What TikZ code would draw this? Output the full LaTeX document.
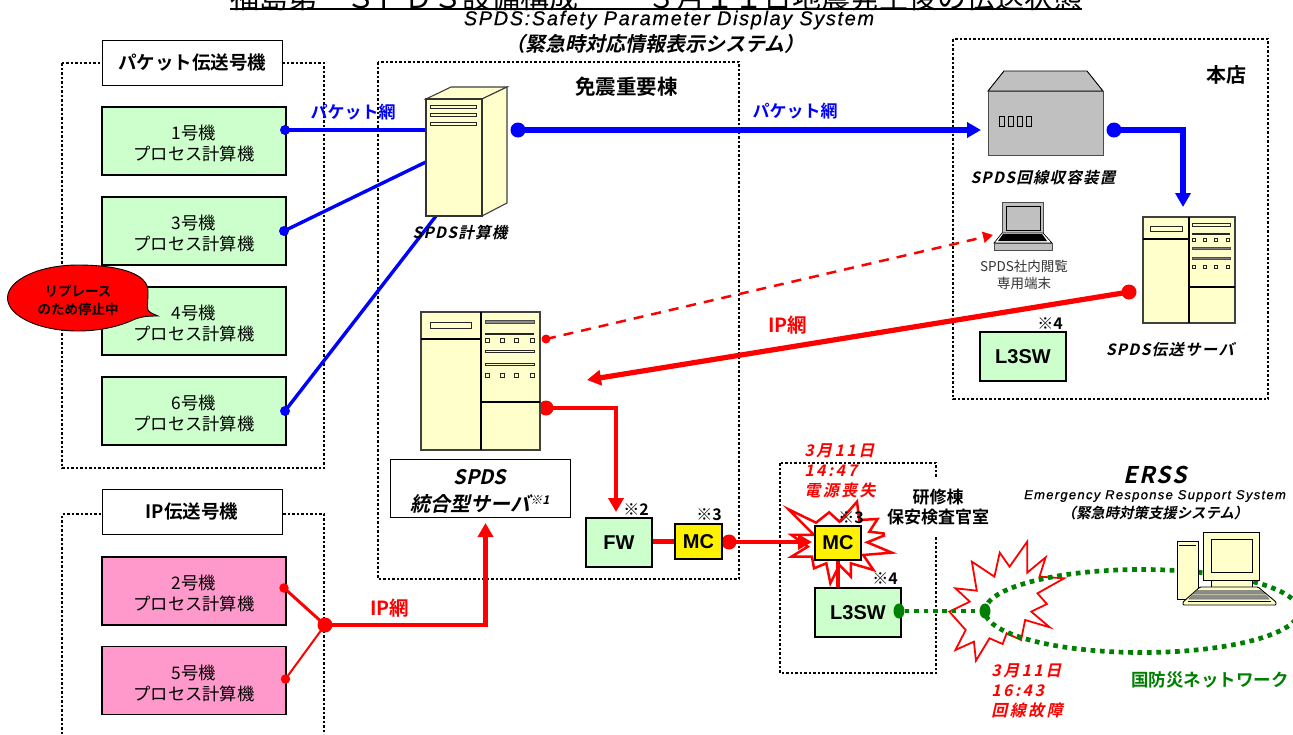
\documentclass[tikz,border=0pt]{standalone}
\usepackage{fontspec}
\setmainfont{Liberation Sans}
\newfontfamily\jp{Noto Sans CJK JP}
\newfontfamily\jpb{Noto Sans CJK JP Bold}
\newfontfamily\jpi[FakeSlant=0.22]{Noto Sans CJK JP Bold}
\newfontfamily\jpil[FakeSlant=0.22,LetterSpace=8]{Noto Sans CJK JP Bold}
\newfontfamily\jpir[FakeSlant=0.22,LetterSpace=15]{Noto Sans CJK JP Bold}
\newfontfamily\lati[LetterSpace=8,FakeBold=0.5]{Liberation Sans Italic}
\newfontfamily\latbi[LetterSpace=10,FakeBold=0.8]{Liberation Sans Italic}
\newfontfamily\latb{Liberation Sans Bold}
\usetikzlibrary{arrows.meta,shapes.geometric}
\definecolor{pgreen}{HTML}{CCFFCC}
\definecolor{ppink}{HTML}{FF99CC}
\definecolor{pcream}{HTML}{FFFFCC}
\definecolor{pgray}{HTML}{C0C0C0}
\definecolor{nblue}{HTML}{0000FF}
\definecolor{nred}{HTML}{FF0000}
\definecolor{ngreen}{HTML}{008000}
\newcommand\uu{\rule{0pt}{19.5pt}}
\tikzset{
  zone/.style={draw=black,line width=2.2pt,dash pattern=on 2.5pt off 2pt},
  unitbox/.style={draw=black,line width=1.8pt,minimum width=184pt,minimum height=68pt,inner sep=0pt,align=center,font=\jp\fontsize{17.3}{21}\selectfont},
  gbox/.style={unitbox,fill=pgreen},
  pbox/.style={unitbox,fill=ppink},
  titlebox/.style={draw=black,fill=white,line width=0.9pt,minimum width=180pt,minimum height=45pt,inner sep=0pt,font=\jpb\fontsize{18.5}{21}\selectfont},
  netbox/.style={draw=black,line width=1.8pt,inner sep=0pt,font=\latb\fontsize{20}{22}\selectfont},
  eqp/.style={draw=black!75,fill=pcream,line width=1.1pt},
  eqblack/.style={draw=black,line width=1.1pt},
  slot/.style={draw=black!85,fill=pcream,line width=1pt},
  blueA/.style={draw=nblue,line width=3.4pt},
  blueB/.style={draw=nblue,line width=5.4pt},
  redA/.style={draw=nred,line width=4.6pt},
  tri/.style={-{Triangle[length=14pt,width=15pt]}},
  bdot/.style={circle,fill=nblue,inner sep=0pt,minimum size=#1},
  rdot/.style={circle,fill=nred,inner sep=0pt,minimum size=#1},
  gdot/.style={ellipse,fill=ngreen,inner sep=0pt,minimum width=11pt,minimum height=15pt},
  greenline/.style={draw=ngreen,line width=4.7pt,dash pattern=on 4.7pt off 4.7pt},
  burst/.style={draw=nred,fill=white,line width=1.8pt,line join=miter},
  devlabel/.style={inner sep=0pt,align=center,font=\jpil\fontsize{15.5}{17}\selectfont},
  mark4/.style={inner sep=0pt,font=\jpb\fontsize{16}{16}\selectfont},
  heading/.style={inner sep=0pt,align=center,font=\jpb\fontsize{17}{20}\selectfont},
  rednote/.style={inner sep=0pt,align=left,text=nred,font=\jpir\fontsize{16}{20}\selectfont},
}
\begin{document}
\begin{tikzpicture}[x=1pt,y=-1pt]
\path[use as bounding box] (0,0) rectangle (1293,734);
\clip (0,0) rectangle (1293,734);
\fill[white] (0,0) rectangle (1293,734);

% title
\node[anchor=south west,inner sep=0pt,font=\jp\fontsize{29}{29}\selectfont] (title) at (230,11) {福島第一ＳＰＤＳ設備構成\hspace{69pt}３月１１日地震発生後の伝送状態};
\coordinate (ulA) at (230,9); \coordinate (ulB) at (1082,9);
\draw[line width=2pt] (ulA) -- (ulB);
\node[inner sep=0pt,font=\lati\fontsize{20}{22}\selectfont] (sub1) at (669,20) {SPDS:Safety Parameter Display System};
\node[inner sep=0pt,font=\jpi\fontsize{20}{22}\selectfont] (sub2) at (655,44) {（緊急時対応情報表示システム）};

% zones
\draw[zone] (62,734) -- (62,514) -- (324,514) -- (324,734);
\draw[zone] (62,63) rectangle (324,468);
\draw[zone] (378,62) rectangle (739,579);
\draw[zone] (953,39) rectangle (1268,399);
\draw[zone] (780,463) rectangle (936,673);

\node[titlebox] (pk) at (192,62.5) {パケット伝送号機};
\node[titlebox] (ipk) at (192,511.5) {IP伝送号機};

% units
\node[gbox] (u1) at (194,141) {\uu 1号機\\プロセス計算機};
\node[gbox] (u3) at (194,231) {\uu 3号機\\プロセス計算機};
\node[gbox] (u4) at (194,321) {\uu 4号機\\プロセス計算機};
\node[gbox] (u6) at (194,411) {\uu 6号機\\プロセス計算機};
\node[pbox] (u2) at (194,591) {\uu 2号機\\プロセス計算機};
\node[pbox] (u5) at (194,680.5) {\uu 5号機\\プロセス計算機};

% connector dots
\node[bdot=10pt] (d1) at (285,130) {};
\node[bdot=10pt] (d3) at (284,231) {};
\node[bdot=10pt] (d6) at (285,411) {};
\node[bdot=15pt] (d7) at (518,130) {};
\node[bdot=15pt] (d8) at (1114,130) {};
\node[rdot=9.5pt] (d2) at (284,588) {};
\node[rdot=9.5pt] (d5) at (285.5,679) {};
\node[rdot=15pt] (j) at (325,625) {};
\node[rdot=9pt] (d9) at (546,339) {};
\node[rdot=15pt] (d10) at (546,408) {};
\node[rdot=15pt] (d11) at (1129,292) {};
\node[rdot=15pt] (d12) at (729,542) {};

\coordinate (s1) at (430,130); \coordinate (s3) at (430,160); \coordinate (s6) at (436,216);
\coordinate (t1) at (981,130);
\coordinate (c8) at (1183,130); \coordinate (t8) at (1183,207);
\coordinate (t9) at (993,235);
\coordinate (t11) at (587,380);
\coordinate (c10) at (616,408); \coordinate (t10) at (616,512);
\coordinate (cj) at (485.5,625); \coordinate (tj) at (485.5,523);
\coordinate (t12) at (812,542);

% connectors
\draw[blueA] (d1.center) -- (s1);
\draw[blueA] (d3.center) -- (s3);
\draw[blueA] (d6.center) -- (s6);
\draw[blueB,tri] (d7.center) -- (t1);
\draw[blueB,tri] (d8.center) -- (c8) -- (t8);
\draw[draw=nred,line width=2.5pt,dash pattern=on 10pt off 8pt,-{Triangle[length=10pt,width=11pt]}] (d9.center) -- (t9);
\draw[redA,line width=5.2pt,tri] (d11.center) -- (t11);
\draw[redA,tri] (d10.center) -- (c10) -- (t10);
\draw[redA,tri] (j.center) -- (cj) -- (tj);
\draw[draw=nred,line width=3pt] (d2.center) -- (j.center);
\draw[draw=nred,line width=2pt] (d5.center) -- (j.center);

% SPDS computer
\filldraw[eqp] (426,99) -- (451,87) -- (507,87) -- (482,99) -- cycle;
\filldraw[eqp] (482,99) -- (507,87) -- (507,203) -- (482,216) -- cycle;
\node[eqp,draw=black!80,minimum width=56pt,minimum height=117pt,inner sep=0pt] (srv) at (454,157.5) {};
\foreach \yy in {106.5,115,123.5} \filldraw[slot] (430,\yy-1.5) rectangle (476,\yy+1.5);
\node[devlabel] (srvl) at (460,233) {SPDS計算機};

% integrated server
\node[eqp,minimum width=119pt,minimum height=138pt,inner sep=0pt] (isv) at (480.5,381) {};
\draw[eqblack] (481,312) -- (481,450) (421,339) -- (481,339) (481,402) -- (540,402);
\filldraw[slot] (430,322) rectangle (471,328);
\filldraw[draw=black!70,fill=black!45,line width=.7pt] (485,320) rectangle (534,323);
\fill[black!85] (485,333) rectangle (534,335);
\filldraw[slot] (485,350) rectangle (534,352.5);
\filldraw[slot] (485,363.5) rectangle (534,365.5);
\foreach \xx in {487,502,516,532} { \filldraw[slot] (\xx-2,338) rectangle (\xx+2,342.5); \filldraw[slot] (\xx-2,373) rectangle (\xx+2,377.5); }
\node[draw=black,fill=white,line width=.9pt,minimum width=180pt,minimum height=58pt,inner sep=0pt] (isvl) at (480,488) {};
\node[inner sep=0pt,font=\jpi\fontsize{20}{22}\selectfont] (isv1) at (480,477) {SPDS};
\node[inner sep=0pt,font=\jpi\fontsize{20}{22}\selectfont] (isv2) at (480,504) {統合型サーバ\raisebox{7pt}{\fontsize{12}{12}\selectfont ※1}};

% FW, MC
\node[netbox,fill=pgreen,minimum width=66pt,minimum height=49pt] (fw) at (619,542.5) {FW};
\node[netbox,fill=yellow,minimum width=47pt,minimum height=35pt] (mc) at (698.5,541.5) {MC};
\draw[redA] (fw.east |- mc.west) -- (mc.west);
\draw[redA] (d12.center) -- (mc.east);
\node[mark4] (n2) at (636,510) {※2};
\node[mark4] (n3) at (709,515) {※3};

% burst 1
\begin{scope}[shift={(650,420)},x=0.41pt,y=-0.3333pt]
\draw[burst,line width=2.5pt] (338,268) -- (405,308) -- (437,277) -- (462,305) -- (505,245) -- (510,300) -- (555,297) -- (535,335) -- (580,342) -- (530,367) -- (590,398) -- (520,405) -- (545,450) -- (490,430) -- (490,470) -- (462,435) -- (440,490) -- (430,430) -- (400,445) -- (395,410) -- (345,410) -- (385,380) -- (345,345) -- (400,345) -- cycle;
\end{scope}
\draw[redA,tri] (d12.center) -- (t12);
\node[netbox,fill=yellow,minimum width=46pt,minimum height=34pt] (mc2) at (838,543) {MC};
\node[netbox,fill=pgreen,minimum width=85.5pt,minimum height=49pt] (l32) at (858,612.5) {L3SW};
\draw[redA] (l32.north -| mc2.south) -- (mc2.south);
\node[mark4] (n32) at (851,518) {※3};
\node[mark4] (n42) at (885,579) {※4};

% burst 2
\begin{scope}[shift={(650,420)},x=0.41pt,y=-0.3333pt]
\draw[burst] (730,575) -- (780,545) -- (745,505) -- (797,512) -- (785,425) -- (840,470) -- (853,398) -- (877,440) -- (920,365) -- (920,458) -- (965,412) -- (950,470) -- (1010,475) -- (945,520) -- (968,552) -- (930,575) -- (975,622) -- (915,600) -- (905,660) -- (870,640) -- (860,672) -- (828,655) -- (795,722) -- (790,665) -- (745,690) -- (770,630) -- cycle;
\end{scope}

% green network
\draw[greenline] (1142,611) ellipse [x radius=157, y radius=41.5];
\node[gdot] (g1) at (899,611) {};
\node[gdot] (g2) at (985,611) {};
\draw[greenline] (g1) -- (g2);

% ERSS terminal
\filldraw[draw=black,fill=pcream,line width=.9pt] (1177,541) rectangle (1198,599);
\fill[black] (1179,544.5) rectangle (1196,546);
\filldraw[draw=black,fill=pcream,line width=.9pt] (1211,580) rectangle (1252,588);
\filldraw[draw=black,fill=pcream,line width=.9pt] (1203,532) rectangle (1259,580);
\filldraw[draw=black,fill=pcream,line width=.9pt] (1211,539) rectangle (1252,572);
\filldraw[draw=black,fill=pcream,line width=.9pt,rounded corners=1pt] (1200,587) -- (1258,587) -- (1276,602) -- (1276,605) -- (1183,605) -- (1183,602) -- cycle;
\filldraw[draw=black!60,fill=black!45,line width=.5pt] (1197,590.5) -- (1261,590.5) -- (1265,594) -- (1193,594) -- cycle;
\filldraw[draw=black!60,fill=black!45,line width=.5pt] (1192,595.5) -- (1266,595.5) -- (1269,599) -- (1189,599) -- cycle;
\draw[black,line width=.8pt] (1188,601) -- (1271,601);

% main-office devices
\filldraw[draw=black,fill=pgray,line width=.9pt] (988,91) -- (1004,71) -- (1087,71) -- (1103,91) -- cycle;
\node[draw=black!70,fill=pgray,line width=.9pt,minimum width=115pt,minimum height=64pt,inner sep=0pt] (rack) at (1045.5,123) {};
\foreach \xx in {999,1008,1017,1026} \draw[black,line width=.8pt,fill=pgray] (\xx,116) rectangle (\xx+5,126);
\node[devlabel] (rackl) at (1043,178) {SPDS回線収容装置};

% laptop
\filldraw[draw=black!70,fill=pgray,line width=.9pt] (1002,202) rectangle (1043,233);
\filldraw[draw=black,fill=pgray,line width=.8pt] (1006,206) rectangle (1040,230);
\filldraw[draw=black,fill=white,line width=.7pt] (1002,233) -- (1043,233) -- (1052,243) -- (994,243) -- cycle;
\fill[black] (1003,234) -- (1042,234) -- (1047,241) -- (998,241) -- cycle;
\filldraw[draw=black!70,fill=pgray,line width=.7pt] (994,243) rectangle (1052,250);
\node[inner sep=0pt,align=center,text=black!80,font=\jp\fontsize{13.5}{17}\selectfont] (lapl) at (1024,274.5) {SPDS社内閲覧\\専用端末};

% transfer server
\node[eqp,minimum width=92pt,minimum height=106pt,inner sep=0pt] (tsv) at (1189,270) {};
\draw[eqblack] (1189,217) -- (1189,323) (1143,239) -- (1189,239) (1189,287) -- (1235,287);
\filldraw[slot] (1150,226) rectangle (1182,231);
\filldraw[slot] (1192,223) rectangle (1230,226);
\fill[black!85] (1192,233) rectangle (1230,235);
\filldraw[draw=black!70,fill=black!50,line width=.5pt] (1192,247) rectangle (1230,249);
\filldraw[draw=black!70,fill=black!50,line width=.5pt] (1192,257) rectangle (1230,259);
\foreach \xx in {1194,1205,1216,1228} { \filldraw[slot] (\xx-1.5,238) rectangle (\xx+1.5,241); \filldraw[slot] (\xx-1.5,265) rectangle (\xx+1.5,268); }
\node[devlabel] (tsvl) at (1170,350) {SPDS伝送サーバ};
\node[netbox,fill=pgreen,minimum width=86pt,minimum height=49pt] (l3) at (1023,356.5) {L3SW};
\node[mark4] (n4) at (1050,324) {※4};

% network labels
\node[inner sep=0pt,text=nblue,font=\jpb\fontsize{17}{20}\selectfont] (nl1) at (353,112) {パケット網};
\node[inner sep=0pt,text=nblue,font=\jpb\fontsize{17}{20}\selectfont] (nl2) at (795,111) {パケット網};
\node[inner sep=0pt,text=nred,font=\jpb\fontsize{19.5}{20}\selectfont] (nl3) at (788,325) {IP網};
\node[inner sep=0pt,text=nred,font=\jpb\fontsize{19.5}{20}\selectfont] (nl4) at (390,608) {IP網};

% headings
\node[heading,font=\jpb\fontsize{20.5}{21}\selectfont] (h1) at (626.5,87) {免震重要棟};
\node[heading,font=\jpb\fontsize{20}{21}\selectfont] (h2) at (1226,75) {本店};
\node[heading,fill=white,inner sep=2pt,minimum height=58pt] (h3) at (938,507) {研修棟\\保安検査官室};
\node[rednote] (r1) at (840,471) {3月11日\\14:47\\電源喪失};
\node[rednote] (r2) at (1027,691) {3月11日\\16:43\\回線故障};

% ERSS text
\node[inner sep=0pt,font=\jpil\fontsize{23}{25}\selectfont] (e1) at (1155,475) {ERSS};
\node[inner sep=0pt,font=\latbi\fontsize{13}{15}\selectfont] (e2) at (1155,496) {Emergency Response Support System};
\node[inner sep=0pt,font=\jpi\fontsize{14.4}{16}\selectfont] (e3) at (1155,513) {（緊急時対策支援システム）};
\node[inner sep=0pt,text=ngreen,font=\jpb\fontsize{17.5}{20}\selectfont] (e4) at (1210,680) {国防災ネットワーク};

% callout
\filldraw[draw=black,fill=nred,line width=.9pt] (148,291) .. controls (148,312) and (144,310) .. (158,316) .. controls (150,316) and (142,316) .. (133,320) .. controls (118,327) and (98,331) .. (78,331) .. controls (39,331) and (7.5,316) .. (7.5,298) .. controls (7.5,280) and (39,265) .. (78,265) .. controls (117,265) and (148,273) .. cycle;
\node[inner sep=0pt,align=center,font=\jpb\fontsize{13.5}{18}\selectfont] (co) at (78,300) {リプレース\\のため停止中};
\end{tikzpicture}
\end{document}
